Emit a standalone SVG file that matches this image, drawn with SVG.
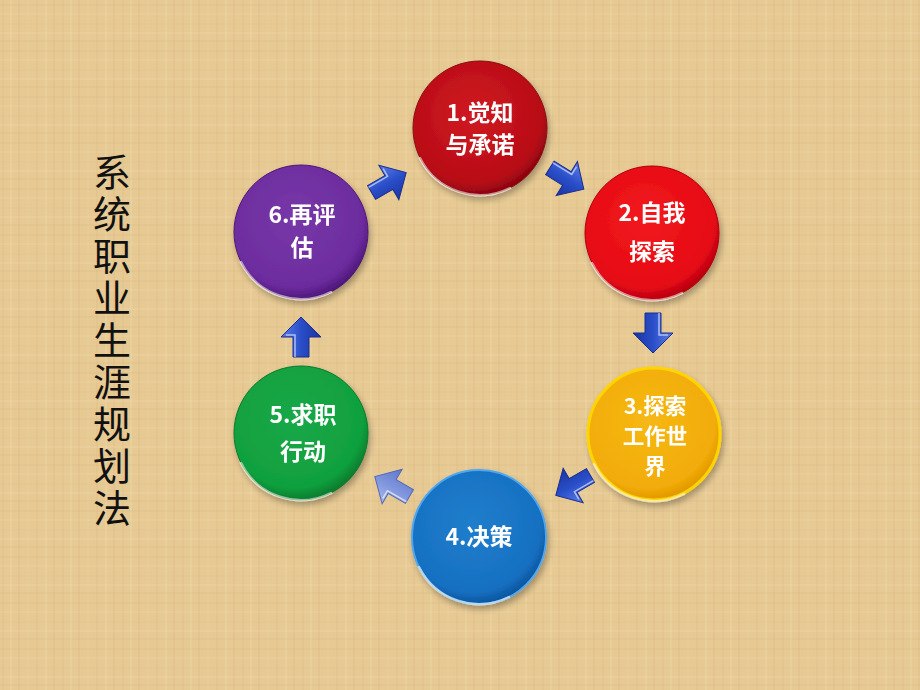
<svg xmlns="http://www.w3.org/2000/svg" width="920" height="690" viewBox="0 0 920 690">
<defs>
<style>
.lbl{font-family:"Noto Sans CJK SC","Liberation Sans",sans-serif;font-weight:bold;font-size:23px;fill:#fff;text-anchor:middle}
.lbs{font-size:21.5px}
.title{font-family:"Noto Sans CJK SC","Liberation Sans",sans-serif;font-size:38px;fill:#111;writing-mode:vertical-rl;letter-spacing:4px}
</style>
<pattern id="paper" width="60" height="46" patternUnits="userSpaceOnUse">
<rect width="60" height="46" fill="#E6C993"/>
<g stroke-width="1">
<line x1="3" y1="0" x2="3" y2="46" stroke="#D8B57A" stroke-opacity="0.4"/>
<line x1="11" y1="0" x2="11" y2="46" stroke="#F2DDB0" stroke-opacity="0.5"/>
<line x1="19" y1="0" x2="19" y2="46" stroke="#D3AE73" stroke-opacity="0.3"/>
<line x1="28" y1="0" x2="28" y2="46" stroke="#F0D8A8" stroke-opacity="0.45"/>
<line x1="37" y1="0" x2="37" y2="46" stroke="#D6B37A" stroke-opacity="0.4"/>
<line x1="46" y1="0" x2="46" y2="46" stroke="#F3DFB4" stroke-opacity="0.5"/>
<line x1="54" y1="0" x2="54" y2="46" stroke="#D2AD72" stroke-opacity="0.3"/>
<line x1="0" y1="5" x2="60" y2="5" stroke="#D5B277" stroke-opacity="0.3"/>
<line x1="0" y1="14" x2="60" y2="14" stroke="#F1DBAE" stroke-opacity="0.45"/>
<line x1="0" y1="24" x2="60" y2="24" stroke="#D7B47A" stroke-opacity="0.25"/>
<line x1="0" y1="33" x2="60" y2="33" stroke="#F2DCB0" stroke-opacity="0.45"/>
<line x1="0" y1="41" x2="60" y2="41" stroke="#D4AF75" stroke-opacity="0.3"/>
</g>
</pattern>
<filter id="sh" x="-20%" y="-20%" width="140%" height="140%">
<feGaussianBlur in="SourceAlpha" stdDeviation="3"/>
<feOffset dx="2" dy="4"/>
<feComponentTransfer><feFuncA type="linear" slope="0.3"/></feComponentTransfer>
<feMerge><feMergeNode/><feMergeNode in="SourceGraphic"/></feMerge>
</filter>
<radialGradient id="g1" cx="0.45" cy="0.4" r="0.6"><stop offset="0" stop-color="#D01A22"/><stop offset="0.85" stop-color="#B80C16"/><stop offset="1" stop-color="#8C0410"/></radialGradient>
<radialGradient id="g2" cx="0.45" cy="0.4" r="0.6"><stop offset="0" stop-color="#F21A1E"/><stop offset="0.85" stop-color="#E60A14"/><stop offset="1" stop-color="#B80010"/></radialGradient>
<radialGradient id="g3" cx="0.45" cy="0.4" r="0.6"><stop offset="0" stop-color="#F6B814"/><stop offset="0.85" stop-color="#F2AC08"/><stop offset="1" stop-color="#E09800"/></radialGradient>
<radialGradient id="g4" cx="0.45" cy="0.4" r="0.6"><stop offset="0" stop-color="#207ECC"/><stop offset="0.85" stop-color="#1670C2"/><stop offset="1" stop-color="#0C56A0"/></radialGradient>
<radialGradient id="g5" cx="0.45" cy="0.4" r="0.6"><stop offset="0" stop-color="#1AA848"/><stop offset="0.85" stop-color="#10A03E"/><stop offset="1" stop-color="#0A7C2E"/></radialGradient>
<radialGradient id="g6" cx="0.45" cy="0.4" r="0.6"><stop offset="0" stop-color="#7838A8"/><stop offset="0.85" stop-color="#6C2C9E"/><stop offset="1" stop-color="#50187C"/></radialGradient>
<linearGradient id="ag" x1="0" y1="0" x2="0" y2="1"><stop offset="0" stop-color="#5C7EE8"/><stop offset="0.5" stop-color="#2A4EC8"/><stop offset="1" stop-color="#1A34A0"/></linearGradient>
<linearGradient id="agl" x1="0" y1="0" x2="0" y2="1"><stop offset="0" stop-color="#A8B8EC"/><stop offset="0.5" stop-color="#7E94DC"/><stop offset="1" stop-color="#6078CC"/></linearGradient>
<g id="arr">
<polygon points="-19,-8 1,-8 1,-20 21,0 1,20 1,8 -19,8" fill="url(#ag)" stroke="#1A2E90" stroke-width="1"/>
<polyline points="-19,-6 3,-6 3,-15" fill="none" stroke="#C8D6FF" stroke-width="1.5" stroke-opacity="0.8"/>
</g>
<g id="arrL">
<polygon points="-19,-8 1,-8 1,-20 21,0 1,20 1,8 -19,8" fill="url(#agl)" stroke="#5468B8" stroke-width="1"/>
<polyline points="-19,-6 3,-6 3,-15" fill="none" stroke="#E8EEFF" stroke-width="1.5" stroke-opacity="0.8"/>
</g>
<path id="rim" d="M -60 30 A 67 67 0 0 0 30 60" fill="none" stroke="#fff" stroke-opacity="0.55" stroke-width="2.5" stroke-linecap="round"/>
</defs>
<rect width="920" height="690" fill="url(#paper)"/>

<g id="title">
<text class="title" x="112" y="153">系统职业生涯规划法</text>
</g>

<g id="connectors">
<use href="#arr" transform="translate(566,178) rotate(32)"/>
<use href="#arr" transform="translate(653,332) rotate(90)"/>
<use href="#arr" transform="translate(574,485) rotate(150)"/>
<use href="#arrL" transform="translate(393,487) rotate(210)"/>
<use href="#arr" transform="translate(301,338) rotate(-90)"/>
<use href="#arr" transform="translate(388,183) rotate(-30)"/>
</g>

<g id="node1" filter="url(#sh)">
<circle cx="480" cy="128" r="67" fill="url(#g1)" stroke="#8A0A12" stroke-width="1"/>
<use href="#rim" transform="translate(480,128)"/>
<text class="lbl" x="480" y="121">1.觉知</text>
<text class="lbl" x="480" y="153">与承诺</text>
</g>
<g id="node2" filter="url(#sh)">
<circle cx="652" cy="233" r="67" fill="url(#g2)" stroke="#B00010" stroke-width="1"/>
<use href="#rim" transform="translate(652,233)"/>
<text class="lbl" x="652" y="221">2.自我</text>
<text class="lbl" x="652" y="260">探索</text>
</g>
<g id="node3" filter="url(#sh)">
<circle cx="654" cy="434" r="66" fill="url(#g3)" stroke="#FFD400" stroke-width="3"/>
<use href="#rim" transform="translate(654,434)"/>
<text class="lbl lbs" x="655" y="414">3.探索</text>
<text class="lbl lbs" x="655" y="444">工作世</text>
<text class="lbl lbs" x="655" y="474">界</text>
</g>
<g id="node4" filter="url(#sh)">
<circle cx="479" cy="537" r="67" fill="url(#g4)" stroke="#4FA6EE" stroke-width="2"/>
<use href="#rim" transform="translate(479,537)"/>
<text class="lbl" x="479" y="545">4.决策</text>
</g>
<g id="node5" filter="url(#sh)">
<circle cx="301" cy="433" r="67" fill="url(#g5)" stroke="#0A7A2C" stroke-width="1"/>
<use href="#rim" transform="translate(301,433)"/>
<text class="lbl" x="303" y="423">5.求职</text>
<text class="lbl" x="303" y="460">行动</text>
</g>
<g id="node6" filter="url(#sh)">
<circle cx="301" cy="232" r="67" fill="url(#g6)" stroke="#4E1878" stroke-width="1"/>
<use href="#rim" transform="translate(301,232)"/>
<text class="lbl" x="302" y="223">6.再评</text>
<text class="lbl" x="302" y="256">估</text>
</g>
</svg>
